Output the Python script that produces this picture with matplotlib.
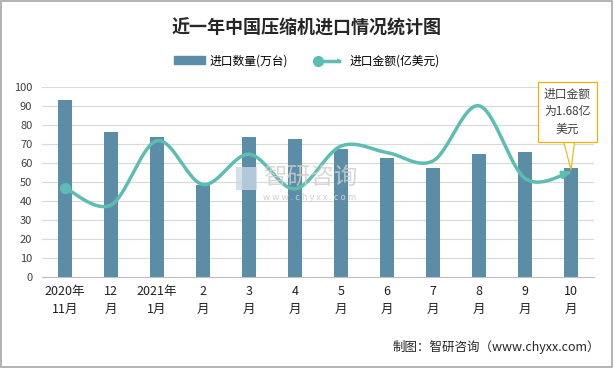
import numpy as np
import matplotlib.pyplot as plt
from matplotlib.patches import Rectangle, FancyArrowPatch
from matplotlib.lines import Line2D
from matplotlib.legend_handler import HandlerBase

plt.rcParams['font.family'] = ['Noto Sans CJK SC', 'DejaVu Sans']

months = ['2020年\n11月', '12\n月', '2021年\n1月', '2\n月', '3\n月', '4\n月',
          '5\n月', '6\n月', '7\n月', '8\n月', '9\n月', '10\n月']
qty = [93.5, 76.3, 73.7, 48.4, 73.7, 72.6, 67.4, 62.6, 57.4, 64.7, 65.8, 57.4]
amount = [47.0, 38.0, 71.8, 48.8, 64.7, 46.5, 69.0, 65.6, 61.2, 90.2, 52.0, 55.4]

bar_c = '#5b8ea6'
line_c = '#5dbdb2'


def smooth(xs, ys, n=30):
    # bezier smoothing like the office "smoothed line"
    p = np.column_stack([xs, ys]).astype(float)
    ext = np.vstack([p[0], p, p[-1]])
    out = []
    for i in range(len(p) - 1):
        p0, p1, p2, p3 = ext[i], ext[i + 1], ext[i + 2], ext[i + 3]
        c1 = p1 + (p2 - p0) / 6
        c2 = p2 - (p3 - p1) / 6
        t = np.linspace(0, 1, n)[:, None]
        seg = (1 - t) ** 3 * p1 + 3 * (1 - t) ** 2 * t * c1 + 3 * (1 - t) * t ** 2 * c2 + t ** 3 * p2
        out.append(seg if i == 0 else seg[1:])
    s = np.vstack(out)
    return s[:, 0], s[:, 1]


class ArrowLineHandler(HandlerBase):
    def create_artists(self, legend, orig, xd, yd, w, h, fs, trans):
        y = yd + h / 2
        ln = Line2D([xd + 3, xd + w - 4], [y, y], color=line_c, lw=2.5, transform=trans)
        dot = Line2D([xd + 3], [y], marker='o', ms=7, color=line_c, transform=trans)
        arr = FancyArrowPatch((xd + w - 8, y), (xd + w, y), arrowstyle='-|>',
                              mutation_scale=9, color=line_c, lw=0, transform=trans)
        return [ln, dot, arr]


fig = plt.figure(figsize=(6.14, 3.68), dpi=100)
fig.patch.set_facecolor('white')
fig.patches.append(Rectangle((0.002, 0.003), 0.995, 0.994, transform=fig.transFigure,
                             fill=False, ec='#a6a6a6', lw=1.2))

ax = fig.add_axes([0.0684, 0.247, 0.899, 0.516])
x = np.arange(len(months))
ax.bar(x, qty, width=0.29, color=bar_c, zorder=2)

sx, sy = smooth(x, amount)
ax.plot(sx[:-4], sy[:-4], color=line_c, lw=2.5, zorder=3, solid_capstyle='round')
ax.annotate('', xy=(sx[-1], sy[-1]), xytext=(sx[-6], sy[-6]),
            arrowprops=dict(arrowstyle='-|>', color=line_c, lw=2.5, mutation_scale=10), zorder=4)
ax.plot(x[0], amount[0], 'o', color=line_c, ms=7, zorder=4)

ax.set_xlim(-0.5, len(months) - 0.5)
ax.set_ylim(0, 100)
ax.set_yticks(range(0, 101, 10))
ax.set_xticks(x)
ax.set_xticklabels(months, fontsize=9, linespacing=1.5)
ax.tick_params(axis='y', labelsize=8, length=0, pad=7, colors='#404040')
ax.tick_params(axis='x', length=0, pad=6, colors='#202020')
ax.grid(axis='y', color='#d9d9d9', lw=0.8, zorder=0)
for s in ['top', 'right', 'left']:
    ax.spines[s].set_visible(False)
ax.spines['bottom'].set_color('#bfbfbf')

# callout for the last point
ax.annotate('进口金额\n为1.68亿\n美元', xy=(x[-1], amount[-1] + 1), xytext=(x[-1] - 0.08, 87),
            ha='center', va='center', fontsize=8.5, color='#404040', linespacing=1.45,
            bbox=dict(boxstyle='square,pad=0.5', fc='white', ec='#f0b400', lw=0.9),
            arrowprops=dict(arrowstyle='wedge,tail_width=0.9', fc='white', ec='#f0b400', lw=0.8,
                            shrinkA=0, shrinkB=0),
            zorder=5, annotation_clip=False)

# watermark
fig.text(0.505, 0.515, '智研咨询', fontsize=17, color='#cfcfcf', ha='center', va='center', alpha=0.8)
fig.text(0.505, 0.462, 'w w w . c h y x x . c o m', fontsize=6.5, color='#cfcfcf', ha='center', va='center')
fig.patches.append(Rectangle((0.385, 0.485), 0.033, 0.06, transform=fig.transFigure,
                             fc='#c9d7e6', ec='none', alpha=0.8))

fig.text(0.5, 0.925, '近一年中国压缩机进口情况统计图', fontsize=13, fontweight='bold',
         ha='center', va='center', color='#262626')
handles = [Rectangle((0, 0), 1, 1, color=bar_c), Line2D([], [])]
fig.legend(handles, ['进口数量(万台)', '进口金额(亿美元)'], loc='center', bbox_to_anchor=(0.5, 0.835),
           ncol=2, frameon=False, fontsize=8.5, handlelength=2.6, handleheight=0.6,
           columnspacing=2.2, handletextpad=0.4,
           handler_map={Line2D: ArrowLineHandler()})
fig.text(0.978, 0.057, '制图：智研咨询（www.chyxx.com）', fontsize=9, ha='right', va='center', color='#262626')

fig.savefig('out.png', dpi=100)
